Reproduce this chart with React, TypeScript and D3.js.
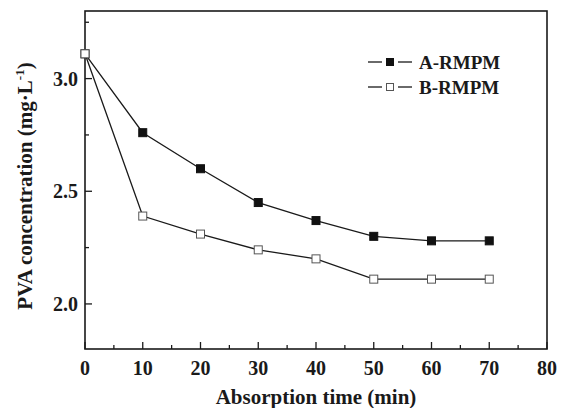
import React, { useEffect, useRef } from 'react'
import * as d3 from 'd3'

const times = [0, 10, 20, 30, 40, 50, 60, 70]
const seriesA = [3.11, 2.76, 2.6, 2.45, 2.37, 2.3, 2.28, 2.28]
const seriesB = [3.11, 2.39, 2.31, 2.24, 2.2, 2.11, 2.11, 2.11]
const xTicks = [0, 10, 20, 30, 40, 50, 60, 70, 80]
const yTicks = [2.0, 2.5, 3.0]
const seriesNames = ['A-RMPM', 'B-RMPM']

export default function App() {
  const ref = useRef<SVGSVGElement>(null)

  useEffect(() => {
    const svg = d3.select(ref.current)
    svg.selectAll('*').remove()
    const font = '"Liberation Serif", "Times New Roman", serif'
    const ink = '#1a1a1a'

    const x = d3.scaleLinear().domain([0, 80]).range([85, 547])
    const y = d3.scaleLinear().domain([1.8, 3.3]).range([349, 11])

    svg.append('rect').attr('width', 562).attr('height', 408).attr('fill', '#fff')

    // frame
    svg.append('rect')
      .attr('x', x(0)).attr('y', y(3.3))
      .attr('width', x(80) - x(0)).attr('height', y(1.8) - y(3.3))
      .attr('fill', 'none').attr('stroke', ink).attr('stroke-width', 1.6)

    // x axis ticks (inward)
    const xMinor = d3.range(5, 80, 10)
    svg.append('g').selectAll('line').data(xTicks).enter().append('line')
      .attr('x1', d => x(d)).attr('x2', d => x(d))
      .attr('y1', y(1.8)).attr('y2', y(1.8) - 7)
      .attr('stroke', ink).attr('stroke-width', 1.3)
    svg.append('g').selectAll('line').data(xMinor).enter().append('line')
      .attr('x1', d => x(d)).attr('x2', d => x(d))
      .attr('y1', y(1.8)).attr('y2', y(1.8) - 4)
      .attr('stroke', ink).attr('stroke-width', 1.3)
    svg.append('g').selectAll('text').data(xTicks).enter().append('text')
      .attr('x', d => x(d)).attr('y', 375)
      .attr('text-anchor', 'middle')
      .attr('font-family', font).attr('font-weight', 'bold').attr('font-size', 20)
      .attr('fill', ink)
      .text(d => d)

    // y axis ticks (inward)
    const yMinor = [1.75, 2.25, 2.75, 3.25].filter(v => v >= 1.8)
    svg.append('g').selectAll('line').data(yTicks).enter().append('line')
      .attr('x1', x(0)).attr('x2', x(0) + 7)
      .attr('y1', d => y(d)).attr('y2', d => y(d))
      .attr('stroke', ink).attr('stroke-width', 1.3)
    svg.append('g').selectAll('line').data(yMinor).enter().append('line')
      .attr('x1', x(0)).attr('x2', x(0) + 4)
      .attr('y1', d => y(d)).attr('y2', d => y(d))
      .attr('stroke', ink).attr('stroke-width', 1.3)
    svg.append('g').selectAll('text').data(yTicks).enter().append('text')
      .attr('x', 78).attr('y', d => y(d) + 7)
      .attr('text-anchor', 'end')
      .attr('font-family', font).attr('font-weight', 'bold').attr('font-size', 20)
      .attr('fill', ink)
      .text(d => d.toFixed(1))

    // axis titles
    svg.append('text')
      .attr('x', (x(0) + x(80)) / 2).attr('y', 404)
      .attr('text-anchor', 'middle')
      .attr('font-family', font).attr('font-weight', 'bold').attr('font-size', 21)
      .attr('fill', ink)
      .text('Absorption time (min)')

    const yt = svg.append('text')
      .attr('transform', `translate(32,186) rotate(-90)`)
      .attr('text-anchor', 'middle')
      .attr('font-family', font).attr('font-weight', 'bold').attr('font-size', 21)
      .attr('fill', ink)
    yt.append('tspan').text('PVA concentration (mg·L')
    yt.append('tspan').attr('dy', -8).attr('font-size', 13).text('-1')
    yt.append('tspan').attr('dy', 8).text(')')

    // series
    const line = d3.line<number>().x((_, i) => x(times[i])).y(d => y(d))
    const all = [seriesA, seriesB]
    all.forEach(s => {
      svg.append('path').datum(s).attr('d', line)
        .attr('fill', 'none').attr('stroke', ink).attr('stroke-width', 1.3)
    })
    all.forEach((s, k) => {
      svg.append('g').selectAll('rect').data(s).enter().append('rect')
        .attr('x', (_, i) => x(times[i]) - 4).attr('y', d => y(d) - 4)
        .attr('width', 8).attr('height', 8)
        .attr('fill', k === 0 ? '#111' : '#fff')
        .attr('stroke', k === 0 ? '#111' : '#555').attr('stroke-width', 1)
    })

    // legend: line broken around the marker
    seriesNames.forEach((name, k) => {
      const ly = 62 + k * 25
      const g = svg.append('g')
      g.append('line').attr('x1', 368).attr('x2', 382).attr('y1', ly).attr('y2', ly)
        .attr('stroke', ink).attr('stroke-width', 1.3)
      g.append('line').attr('x1', 398).attr('x2', 412).attr('y1', ly).attr('y2', ly)
        .attr('stroke', ink).attr('stroke-width', 1.3)
      g.append('rect').attr('x', 386.5).attr('y', ly - 3.5).attr('width', 7).attr('height', 7)
        .attr('fill', k === 0 ? '#111' : '#fff')
        .attr('stroke', k === 0 ? '#111' : '#555').attr('stroke-width', 1)
      g.append('text').attr('x', 419).attr('y', ly + 6.5)
        .attr('font-family', font).attr('font-weight', 'bold').attr('font-size', 19)
        .attr('fill', ink)
        .text(name)
    })
  }, [])

  return (
    <svg ref={ref} width={562} height={408}
      style={{ position: 'absolute', left: 0, top: 0, display: 'block' }} />
  )
}
